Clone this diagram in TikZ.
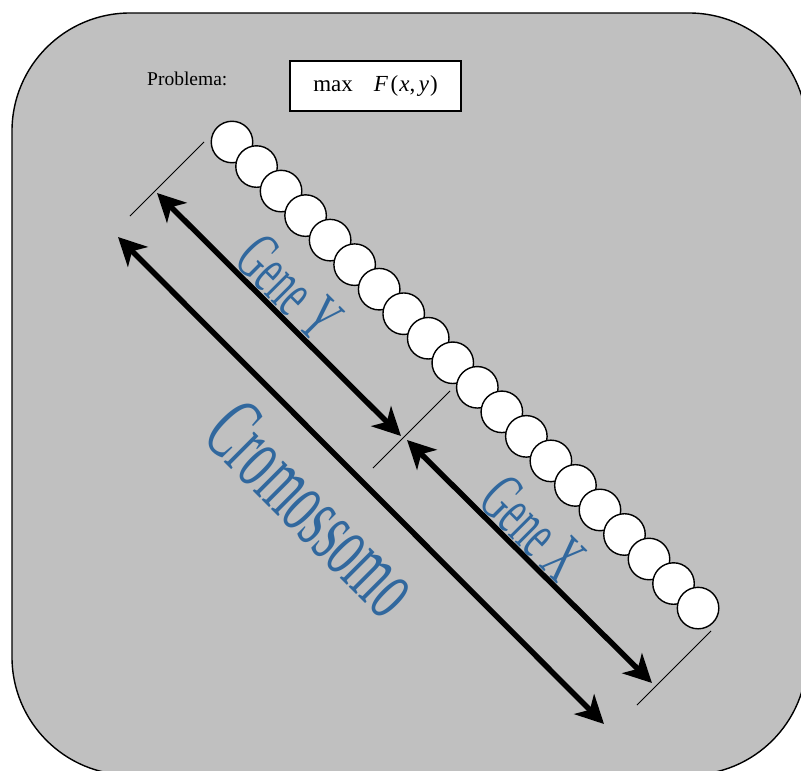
\documentclass[tikz,border=0pt]{standalone}
\usepackage{fontspec}
\usepackage{graphicx}
\setmainfont{Liberation Serif}
\usetikzlibrary{arrows.meta}
\definecolor{panelgray}{RGB}{192,192,192}
\definecolor{labelblue}{RGB}{49,104,158}
\begin{document}
\begin{tikzpicture}[x=1pt,y=-1pt,
  bead/.style={circle,draw=black,fill=white,line width=1.4pt,minimum size=41.5pt,inner sep=0pt},
  ticklinestyle/.style={line width=0.9pt},
  dimarrow/.style={line width=5.5pt,{Stealth[length=28pt,width=28pt,inset=8pt]}-{Stealth[length=28pt,width=28pt,inset=8pt]}},
  biglabel/.style={text=labelblue,rotate=-45,anchor=base,inner sep=0pt}]
\useasboundingbox (0,0) rectangle (801,771);
\fill[white] (0,0) rectangle (801,771);
\clip (0,0) rectangle (801,771);
\draw[fill=panelgray,line width=1.4pt,rounded corners=118pt] (12,13) rectangle (807,775);

% title
\node[font=\fontsize{19.5}{20}\selectfont,anchor=base west,inner sep=0pt] (prob) at (147,85) {Problema:};
\node[draw=black,line width=1.3pt,fill=white,minimum width=171pt,minimum height=50pt,inner sep=0pt,
      font=\fontsize{23}{23}\selectfont] (obj) at (375.5,86)
      {max\hspace{21pt}\textit{F}\kern2.5pt(\kern1pt\textit{x},\kern3.5pt\textit{y}\kern1pt)};

% beads
\foreach \i in {0,...,19}
  \node[bead] (b\i) at ({232+\i*24.53},{142+\i*24.53}) {};

% ticks
\coordinate (t1a) at (130,216); \coordinate (t1b) at (204,142);
\coordinate (t2a) at (373,468); \coordinate (t2b) at (450,391);
\coordinate (t3a) at (637,705); \coordinate (t3b) at (711,631);
\draw[ticklinestyle] (t1a) -- (t1b);
\draw[ticklinestyle] (t2a) -- (t2b);
\draw[ticklinestyle] (t3a) -- (t3b);

% arrows
\coordinate (yTop) at (157,193); \coordinate (yBot) at (401,436);
\coordinate (xTop) at (407,440); \coordinate (xBot) at (652,683);
\coordinate (cTop) at (118,237); \coordinate (cBot) at (604,724);
\draw[dimarrow] (yTop) -- (yBot);
\draw[dimarrow] (xTop) -- (xBot);
\draw[dimarrow] (cTop) -- (cBot);

% labels
\node[biglabel,font=\fontsize{69}{69}\selectfont] (geneY) at (273.5,303.5) {\scalebox{0.54}[1]{Gene Y}};
\node[biglabel,font=\fontsize{69}{69}\selectfont] (geneX) at (517,544) {\scalebox{0.54}[1]{Gene X}};
\node[biglabel,font=\fontsize{93}{93}\selectfont] (cromo) at (292,530) {\scalebox{0.52}[1]{Cromossomo}};
\end{tikzpicture}
\end{document}
